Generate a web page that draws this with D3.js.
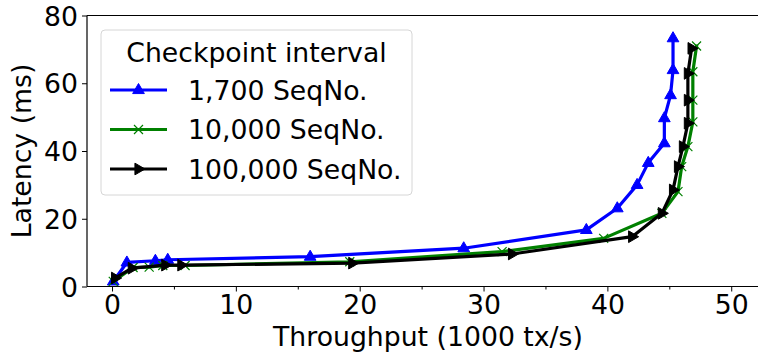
<!DOCTYPE html>
<html>
<head>
<meta charset="utf-8">
<script src="https://cdn.jsdelivr.net/npm/d3@7"></script>
<style>
  html, body { margin: 0; padding: 0; background: #fff; }
  svg { display: block; }
  text { font-family: "DejaVu Sans", sans-serif; }
</style>
</head>
<body>
<svg id="chart" width="758" height="355"></svg>
<script>
// ---- data ----
const seriesNames = ["1,700 SeqNo.", "10,000 SeqNo.", "100,000 SeqNo."];
const legendTitle = "Checkpoint interval";
const xLabel = "Throughput (1000 tx/s)";
const yLabel = "Latency (ms)";

const blueX = [0.1, 1.2, 3.5, 4.5, 16.0, 28.4, 38.3, 40.8, 42.4, 43.3, 44.6, 44.6, 45.1, 45.3, 45.3];
const blueY = [1.5, 7.1, 7.6, 7.9, 8.8, 11.3, 16.7, 23.1, 30.0, 36.5, 42.3, 49.7, 56.5, 63.9, 73.3];

const greenX = [0.1, 1.7, 3.0, 4.1, 5.9, 19.2, 31.5, 39.7, 44.4, 45.7, 46.0, 46.5, 46.9, 46.9, 46.9, 47.2];
const greenY = [1.5, 5.6, 5.7, 6.2, 6.2, 7.3, 10.3, 14.2, 21.6, 28.0, 35.4, 41.3, 48.6, 55.0, 63.4, 71.0];

const blackX = [0.25, 1.6, 4.3, 5.6, 19.4, 32.3, 42.0, 44.4, 45.3, 45.7, 46.1, 46.5, 46.5, 46.5, 46.8];
const blackY = [2.5, 5.4, 6.3, 6.3, 6.9, 9.6, 14.7, 21.6, 28.5, 35.4, 41.3, 48.2, 55.0, 62.9, 70.3];

const xTicks = [0, 10, 20, 30, 40, 50];
const xMinorTicks = [5, 15, 25, 35, 45];
const yTicks = [0, 20, 40, 60, 80];

// ---- layout ----
const svg = d3.select("#chart");
const mLeft = 87, mRight = 769, mTop = 15.5, mBottom = 286.5;
const x = d3.scaleLinear().domain([-2.02, 53.05]).range([mLeft, mRight]);
const y = d3.scaleLinear().domain([0, 80]).range([mBottom, mTop]);
const FS = 26.7;

const series = [
  { name: seriesNames[0], xs: blueX, ys: blueY, color: "#0000ff", marker: "tri" },
  { name: seriesNames[1], xs: greenX, ys: greenY, color: "#008000", marker: "x" },
  { name: seriesNames[2], xs: blackX, ys: blackY, color: "#000000", marker: "right" }
];

const line = d3.line().x(d => x(d[0])).y(d => y(d[1]));

function drawMarker(g, cx, cy, type, color) {
  if (type === "tri") {
    const s = 6.5;
    g.append("path")
      .attr("d", `M${cx},${cy - s} L${cx + s * 0.9},${cy + s * 0.55} L${cx - s * 0.9},${cy + s * 0.55} Z`)
      .attr("fill", color).attr("stroke", color).attr("stroke-width", 1);
  } else if (type === "right") {
    const s = 6.5;
    g.append("path")
      .attr("d", `M${cx + s},${cy} L${cx - s * 0.55},${cy - s * 0.9} L${cx - s * 0.55},${cy + s * 0.9} Z`)
      .attr("fill", color).attr("stroke", color).attr("stroke-width", 1);
  } else {
    const s = 4.5;
    g.append("path")
      .attr("d", `M${cx - s},${cy - s} L${cx + s},${cy + s} M${cx - s},${cy + s} L${cx + s},${cy - s}`)
      .attr("fill", "none").attr("stroke", color).attr("stroke-width", 1.2);
  }
}

// ---- series ----
const plot = svg.append("g");
series.forEach(s => {
  const pts = s.xs.map((v, i) => [v, s.ys[i]]);
  const g = plot.append("g");
  g.append("path").datum(pts)
    .attr("d", line)
    .attr("fill", "none")
    .attr("stroke", s.color)
    .attr("stroke-width", 3.2)
    .attr("stroke-linejoin", "round")
    .attr("stroke-linecap", "square");
  pts.forEach(p => drawMarker(g, x(p[0]), y(p[1]), s.marker, s.color));
});

// ---- axes ----
const xAxis = d3.axisBottom(x).tickValues(xTicks).tickSize(5).tickPadding(4).tickFormat(d3.format("d"));
const gx = svg.append("g").attr("transform", `translate(0,${mBottom})`).call(xAxis);
gx.select(".domain").attr("d", `M${mLeft},0H${mRight}`).attr("stroke", "#000").attr("stroke-width", 1.2);
gx.selectAll("text").attr("font-size", FS).attr("fill", "#000").attr("font-family", "DejaVu Sans");
const xMinor = d3.axisBottom(x).tickValues(xMinorTicks).tickSize(3).tickFormat("");
const gxm = svg.append("g").attr("transform", `translate(0,${mBottom})`).call(xMinor);
gxm.select(".domain").remove();

const yAxis = d3.axisLeft(y).tickValues(yTicks).tickSize(5).tickPadding(4).tickFormat(d3.format("d"));
const gy = svg.append("g").attr("transform", `translate(${mLeft},0)`).call(yAxis);
gy.select(".domain").attr("d", `M0,${mTop}V${mBottom}`).attr("stroke", "#000").attr("stroke-width", 1.2);
gy.selectAll("text").attr("font-size", FS).attr("fill", "#000").attr("dy", "0.36em").attr("font-family", "DejaVu Sans");

// top spine
svg.append("line").attr("x1", mLeft).attr("x2", mRight).attr("y1", mTop).attr("y2", mTop)
  .attr("stroke", "#000").attr("stroke-width", 1.2);

// axis labels
svg.append("text").attr("x", (mLeft + mRight) / 2).attr("y", 346)
  .attr("text-anchor", "middle").attr("font-size", FS).text(xLabel);
svg.append("text").attr("transform", `translate(31,${(mTop + mBottom) / 2}) rotate(-90)`)
  .attr("text-anchor", "middle").attr("font-size", FS).text(yLabel);

// ---- legend ----
const lg = svg.append("g");
lg.append("rect").attr("x", 101).attr("y", 30).attr("width", 311).attr("height", 165)
  .attr("rx", 4).attr("fill", "#fff").attr("fill-opacity", 0.8)
  .attr("stroke", "#d6d6d6").attr("stroke-width", 1);
lg.append("text").attr("x", 256.5).attr("y", 62).attr("text-anchor", "middle")
  .attr("font-size", FS).text(legendTitle);
const rowY = [90, 129.5, 169];
series.forEach((s, i) => {
  const yy = rowY[i];
  lg.append("line").attr("x1", 110).attr("x2", 167).attr("y1", yy).attr("y2", yy)
    .attr("stroke", s.color).attr("stroke-width", 3.2);
  drawMarker(lg, 138.5, yy, s.marker, s.color);
  lg.append("text").attr("x", 188).attr("y", yy + 9.5).attr("font-size", FS).text(s.name);
});
</script>
</body>
</html>
